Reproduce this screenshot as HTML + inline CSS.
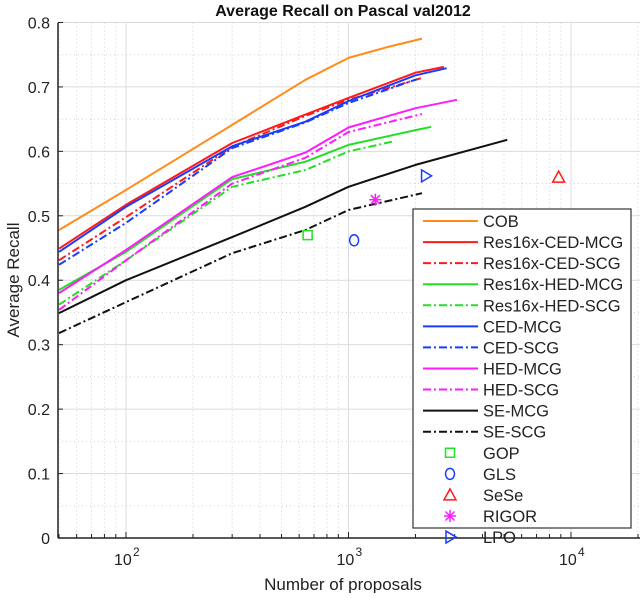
<!DOCTYPE html>
<html><head><meta charset="utf-8"><style>
body{margin:0;background:#fff;}
svg{font-family:"Liberation Sans",Arial,sans-serif;}
</style></head><body>
<svg width="640" height="593">
<g id="grid"></g><g id="series"></g><g id="axes"></g><g id="legend"></g>
</svg>
<script>
const cobX=[50,100,300,640,1000,1500,2140], cobY=[0.478,0.54,0.641,0.711,0.745,0.762,0.775];
const rcedMcgX=[50,100,300,640,1000,2000,2680], rcedMcgY=[0.449,0.517,0.613,0.657,0.683,0.722,0.731];
const rcedScgX=[50,100,300,640,1000,2140], rcedScgY=[0.431,0.498,0.607,0.655,0.680,0.714];
const rhedMcgX=[50,100,300,640,1000,2000,2350], rhedMcgY=[0.385,0.444,0.557,0.584,0.61,0.633,0.638];
const rhedScgX=[50,100,300,640,1000,1570], rhedScgY=[0.362,0.431,0.545,0.571,0.60,0.615];
const cedMcgX=[50,100,300,640,1000,2000,2760], cedMcgY=[0.444,0.514,0.608,0.646,0.678,0.718,0.729];
const cedScgX=[50,100,300,640,1000,2030], cedScgY=[0.424,0.489,0.605,0.645,0.675,0.712];
const hedMcgX=[50,100,300,640,1000,2000,3070], hedMcgY=[0.38,0.447,0.56,0.598,0.637,0.667,0.68];
const hedScgX=[50,100,300,640,1000,2140], hedScgY=[0.354,0.431,0.55,0.59,0.63,0.658];
const seMcgX=[50,100,300,640,1000,2000,5170], seMcgY=[0.349,0.40,0.467,0.514,0.545,0.579,0.618];
const seScgX=[50,100,300,640,1000,2140], seScgY=[0.318,0.366,0.442,0.478,0.509,0.535];
const markerNames=["GOP","GLS","SeSe","RIGOR","LPO"];
const markerX=[655,1060,8800,1320,2220];
const markerY=[0.47,0.462,0.56,0.525,0.562];
const yTicks=[0,0.1,0.2,0.3,0.4,0.5,0.6,0.7,0.8];
const yTickLabels=["0","0.1","0.2","0.3","0.4","0.5","0.6","0.7","0.8"];
const xTicks=[100,1000,10000];

const NS="http://www.w3.org/2000/svg";
const L=58,R=640,T=22.6,B=538;
const xs=v=>126+(Math.log10(v)-2)*222.5;
const ys=v=>B-v*644.4;
function mk(tag,attrs,parent){const e=document.createElementNS(NS,tag);for(const k in attrs)e.setAttribute(k,attrs[k]);document.getElementById(parent).appendChild(e);return e;}

for(let d=1;d<=4;d++)for(let m=1;m<10;m++){const v=m*Math.pow(10,d);const x=xs(v);if(x<L+1||x>R)continue;
 const g=mk('line',{x1:x,x2:x,y1:T,y2:B,stroke:m==1?'#dcdcdc':'#d0d0d0','stroke-width':1,'stroke-dasharray':m==1?'':'1,3'},'grid');
 }
for(let i=0;i<=16;i++){const v=i*0.05;const y=ys(v);
 const g=mk('line',{x1:L,x2:R,y1:y,y2:y,stroke:i%2==0?'#dcdcdc':'#d0d0d0','stroke-width':1,'stroke-dasharray':i%2==0?'':'1,3'},'grid');
 }

const series=[
 ["COB",cobX,cobY,"#ff8c1a",""],
 ["Res16x-CED-MCG",rcedMcgX,rcedMcgY,"#ff1a1a",""],
 ["Res16x-CED-SCG",rcedScgX,rcedScgY,"#ff1a1a","8,3,2,3"],
 ["Res16x-HED-MCG",rhedMcgX,rhedMcgY,"#22e022",""],
 ["Res16x-HED-SCG",rhedScgX,rhedScgY,"#22e022","8,3,2,3"],
 ["CED-MCG",cedMcgX,cedMcgY,"#1a3cff",""],
 ["CED-SCG",cedScgX,cedScgY,"#1a3cff","8,3,2,3"],
 ["HED-MCG",hedMcgX,hedMcgY,"#ff1aff",""],
 ["HED-SCG",hedScgX,hedScgY,"#ff1aff","8,3,2,3"],
 ["SE-MCG",seMcgX,seMcgY,"#111",""],
 ["SE-SCG",seScgX,seScgY,"#111","8,3,2,3"]];
const mColors=["#22e022","#1a3cff","#ff1a1a","#ff1aff","#1a3cff"];

function marker(kind,x,y,c,parent){
 let e;
 if(kind=="GOP")e=mk('rect',{x:x-4.5,y:y-4.5,width:9,height:9,fill:'none',stroke:c,'stroke-width':1.5},parent);
 else if(kind=="GLS")e=mk('ellipse',{cx:x,cy:y,rx:4.5,ry:5.5,fill:'none',stroke:c,'stroke-width':1.5},parent);
 else if(kind=="SeSe")e=mk('polygon',{points:`${x},${y-6} ${x-6},${y+5} ${x+6},${y+5}`,fill:'none',stroke:c,'stroke-width':1.5},parent);
 else if(kind=="RIGOR")e=mk('path',{d:`M${x-6},${y}H${x+6}M${x},${y-6}V${y+6}M${x-4.5},${y-4.5}L${x+4.5},${y+4.5}M${x-4.5},${y+4.5}L${x+4.5},${y-4.5}`,stroke:c,'stroke-width':1.5},parent);
 else e=mk('polygon',{points:`${x-4},${y-6} ${x+6},${y} ${x-4},${y+6}`,fill:'none',stroke:c,'stroke-width':1.5},parent);
 return e;
}

series.forEach(s=>{
 const d=s[1].map((v,i)=>(i?'L':'M')+xs(v).toFixed(1)+','+ys(s[2][i]).toFixed(1)).join('');
 const p=mk('path',{d:d,fill:'none',stroke:s[3],'stroke-width':2,'stroke-dasharray':s[4],'stroke-linejoin':'round'},'series');
 
 
});
markerNames.forEach((n,i)=>{
 const e=marker(n,xs(markerX[i]),ys(markerY[i]),mColors[i],'series');
 
 
});

let a=mk('line',{x1:L,x2:R,y1:B,y2:B,stroke:'#222','stroke-width':1.5},'axes');

a=mk('line',{x1:L,x2:L,y1:T,y2:B,stroke:'#222','stroke-width':1.5},'axes');

for(let d=1;d<=4;d++)for(let m=1;m<10;m++){const x=xs(m*Math.pow(10,d));if(x<L+1||x>R)continue;
 const t=mk('line',{x1:x,x2:x,y1:B,y2:B-(m==1?6:4),stroke:'#222'},'axes');
 }
yTicks.forEach((v,i)=>{
 const t=mk('line',{x1:L,x2:L+5,y1:ys(v),y2:ys(v),stroke:'#222'},'axes');
 
 const tx=mk('text',{x:L-8,y:ys(v)+6,'text-anchor':'end','font-size':16,fill:'#222'},'axes');
 tx.textContent=yTickLabels[i];
 
});
xTicks.forEach(v=>{
 const tx=mk('text',{x:xs(v)-12,y:565,'font-size':16,fill:'#222'},'axes');
 tx.textContent='10';
 
 const sp=mk('text',{x:xs(v)+7,y:556,'font-size':12,fill:'#222'},'axes');
 sp.textContent=String(Math.round(Math.log10(v)));
 
});
let t=mk('text',{x:343,y:16,'text-anchor':'middle','font-size':16,'font-weight':'bold',fill:'#111'},'axes');
t.textContent='Average Recall on Pascal val2012';
t=mk('text',{x:343,y:590,'text-anchor':'middle','font-size':17,fill:'#222'},'axes');
t.textContent='Number of proposals';
t=mk('text',{x:0,y:0,'text-anchor':'middle','font-size':17,fill:'#222',transform:'translate(19,280) rotate(-90)'},'axes');
t.textContent='Average Recall';

const lb=mk('rect',{x:413,y:209,width:218,height:319,fill:'#fff',stroke:'#333','stroke-width':1.2},'legend');

const lnames=series.map(s=>s[0]).concat(markerNames);
lnames.forEach((n,i)=>{
 const y=221+i*21.07;
 if(i<series.length){
  const s=series[i];
  const l=mk('line',{x1:423,x2:478,y1:y,y2:y,stroke:s[3],'stroke-width':2,'stroke-dasharray':s[4]},'legend');
  
 } else {
  const k=i-series.length;
  const m=marker(n,450,y,mColors[k],'legend');
  
 }
 const tx=mk('text',{x:483,y:y+6,'font-size':16.5,fill:'#222'},'legend');
 tx.textContent=n;
 
});
</script>
</body></html>
